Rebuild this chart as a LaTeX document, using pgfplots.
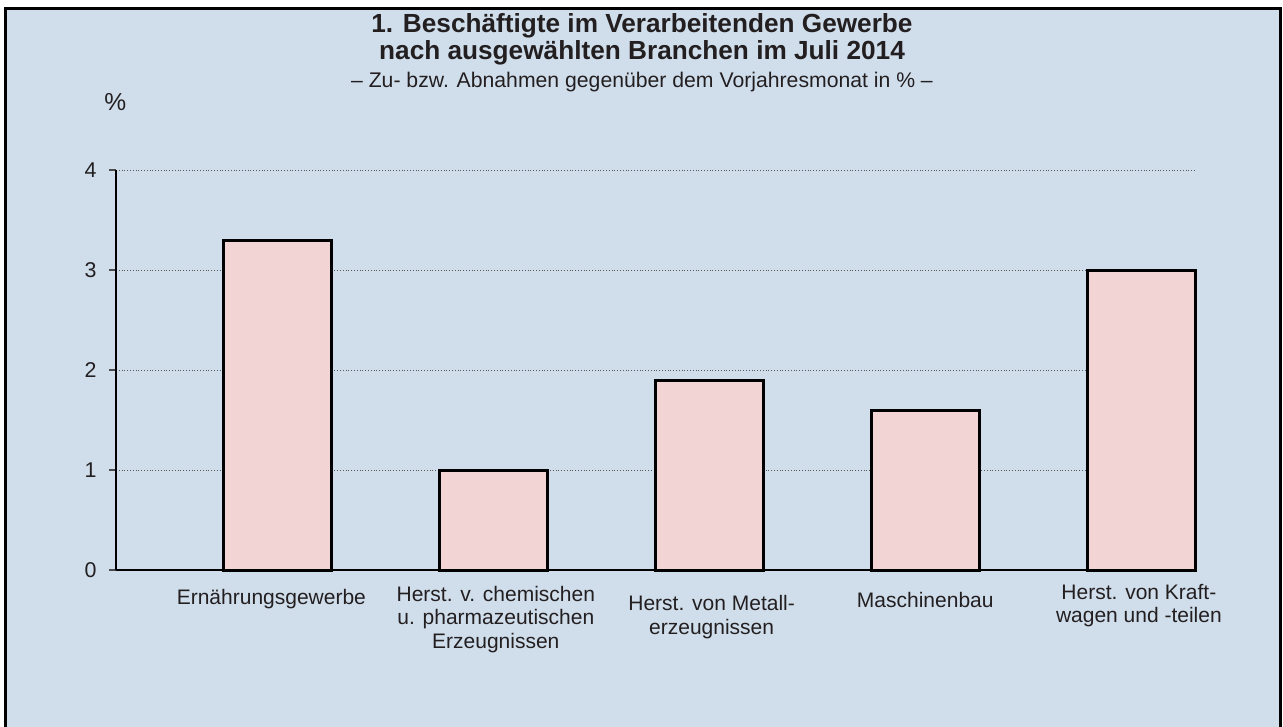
\documentclass[border=0pt]{standalone}
\usepackage{pgfplots}
\pgfplotsset{compat=1.18}
\usepackage{fontspec}
\setmainfont{Liberation Sans}
\definecolor{bgblue}{HTML}{D0DEEC}
\definecolor{barpink}{HTML}{F2D4D5}
\definecolor{txt}{HTML}{231F20}
\begin{document}
\begin{tikzpicture}
\clip (0,0) rectangle (641.5pt,-363.5pt);
\fill[white] (0,0) rectangle (641.5pt,-363.5pt);
\draw[line width=1.5pt, fill=bgblue] (2.75pt,-4.25pt) rectangle (640.25pt,-380pt);
% titles
\node[anchor=base, font=\bfseries\fontsize{13.1}{15}\selectfont, text=txt, inner sep=0pt] at (321pt,-16.5pt) {1. Beschäftigte im Verarbeitenden Gewerbe};
\node[anchor=base, font=\bfseries\fontsize{13.1}{15}\selectfont, text=txt, inner sep=0pt] at (321pt,-30pt) {nach ausgewählten Branchen im Juli 2014};
\node[anchor=base, font=\fontsize{10.6}{12}\selectfont, text=txt, inner sep=0pt] at (321pt,-44pt) {– Zu- bzw. Abnahmen gegenüber dem Vorjahresmonat in \% –};
\begin{axis}[
  at={(58pt,-285pt)}, anchor=origin,
  scale only axis, width=539.5pt, height=200pt,
  xmin=0, xmax=5, ymin=0, ymax=4,
  axis x line=bottom, axis y line=left,
  axis line style={-, black, line width=0.8pt},
  xtick=\empty,
  minor xtick={0,1,2,3,4,5},
  ytick={0,1,2,3,4},
  tick align=outside,
  major tick length=3.5pt,
  minor tick length=4pt,
  ytick style={gray!60!black, line width=0.6pt},
  minor x tick style={black, line width=0.5pt},
  ymajorgrids,
  major grid style={densely dotted, gray!70!black, line width=0.5pt},
  /pgf/number format/assume math mode=true,
  yticklabel style={font=\fontsize{10.7}{12}\selectfont, text=txt, inner sep=0pt, xshift=-6pt},
  clip=false,
]
\addplot[ybar, bar width=54pt, bar shift=0pt, fill=barpink, draw=black, line width=1.5pt]
  coordinates {(0.75,3.3) (1.75,1.0) (2.75,1.9) (3.75,1.6) (4.75,3.0)};
\node[font=\fontsize{12.3}{14}\selectfont, text=txt, inner sep=0pt] at (rel axis cs:0,1) [yshift=34pt, xshift=-0.3pt] {\%};
\begin{scope}[every node/.style={font=\fontsize{10.5}{11.75}\selectfont, text=txt, inner sep=0pt, align=center, anchor=base}]
\node at (axis cs:0.72,0) [yshift=-17pt] {Ernährungsgewerbe};
\node at (axis cs:1.76,0) [yshift=-39pt] {Herst. v. chemischen\\u. pharmazeutischen\\Erzeugnissen};
\node at (axis cs:2.76,0) [yshift=-32pt] {Herst. von Metall-\\erzeugnissen};
\node at (axis cs:3.75,0) [yshift=-18.5pt] {Maschinenbau};
\node at (axis cs:4.74,0) [yshift=-26.3pt] {Herst. von Kraft-\\wagen und -teilen};
\end{scope}
\end{axis}
\end{tikzpicture}
\end{document}
